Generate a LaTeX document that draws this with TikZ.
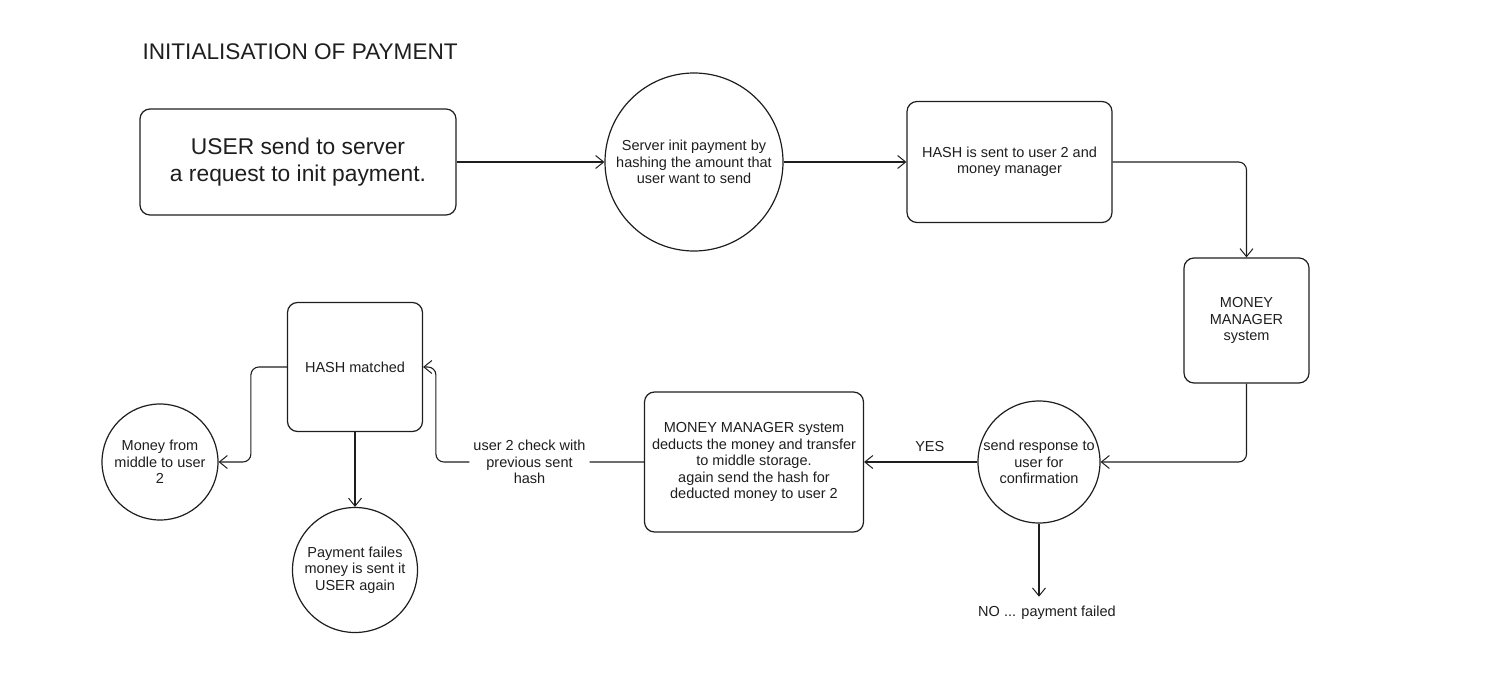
\documentclass[tikz,border=0pt]{standalone}
\usepackage{fontspec}
\setmainfont{Liberation Sans}
\usetikzlibrary{arrows.meta,positioning}
\definecolor{ink}{RGB}{30,30,30}
\tikzset{
  every node/.style={
    font=\fontsize{14.5}{16.5}\selectfont,
    text=ink
  },
  process/.style={
    shape=rectangle,
    rounded corners=10pt,
    draw=ink,
    line width=1.2pt,
    align=center
  },
  bubble/.style={
    shape=circle,
    draw=ink,
    line width=1.2pt,
    inner sep=0pt,
    align=center
  },
  note/.style={
    fill=white,
    align=center,
    inner xsep=4pt
  },
  connector/.style={
    draw=ink,
    line width=1.1pt,
    rounded corners=8pt,
    -{Straight Barb[length=8pt,width=13pt,line width=1pt]}
  }
}

\begin{document}
\begin{tikzpicture}[x=1pt,y=-1pt]
\useasboundingbox (0,0) rectangle (1499,674);

\node [anchor=base west, font=\fontsize{22.6}{26}\selectfont] (title) at (139,60) {INITIALISATION OF PAYMENT};

% top row
\node [process, minimum width=316pt, minimum height=106pt, font=\fontsize{22.8}{27}\selectfont] (user) at (298,162) {USER send to server\\a request to init payment.};
\node [bubble, minimum size=178pt] (server) at (694,162) {Server init payment by\\hashing the amount that\\user want to send};
\node [process, minimum width=205pt, minimum height=121pt] (hash) at (1009.5,162) {HASH is sent to user 2 and\\money manager};
\node [process, minimum width=125pt, minimum height=125pt] (manager) at (1246.5,320.5) {MONEY\\MANAGER\\system};

% bottom row
\node [bubble, minimum size=122pt] (confirm) at (1039,462) {send response to\\user for\\confirmation};
\node [process, minimum width=219pt, minimum height=140pt] (deduct) at (754,462) {MONEY MANAGER system\\deducts the money and transfer\\to middle storage.\\again send the hash for\\deducted money to user 2};
\node [process, minimum width=135pt, minimum height=129pt] (matched) at (355,367) {HASH matched};
\node [bubble, minimum size=116pt] (payout) at (160,462) {Money from\\middle to user\\2};
\node [bubble, minimum size=125pt] (refund) at (355,570) {Payment failes\\money is sent it\\USER again};
\node (failed) at (1047,613) {NO ... payment failed};

% connectors
\draw [connector] (user) -- (server);
\draw [connector] (server) -- (hash);
\draw [connector] (hash.east) -| (manager.north);
\draw [connector] (manager.south) |- (confirm.east);
\draw [connector] (confirm.west) -- node [pos=0.42, above=6pt] {YES} (deduct.east);
\draw [connector, shorten >=6pt] (confirm.south) -- (confirm.south |- failed.north);
\draw [connector] (deduct.west) -- node [note, pos=0.55] {user 2 check with\\previous sent\\hash} ++(-208,0) |- (matched.east);
\draw [connector] (matched.west) -- ++(-36,0) |- (payout.east);
\draw [connector] (matched.south) -- (refund.north);

\end{tikzpicture}
\end{document}
